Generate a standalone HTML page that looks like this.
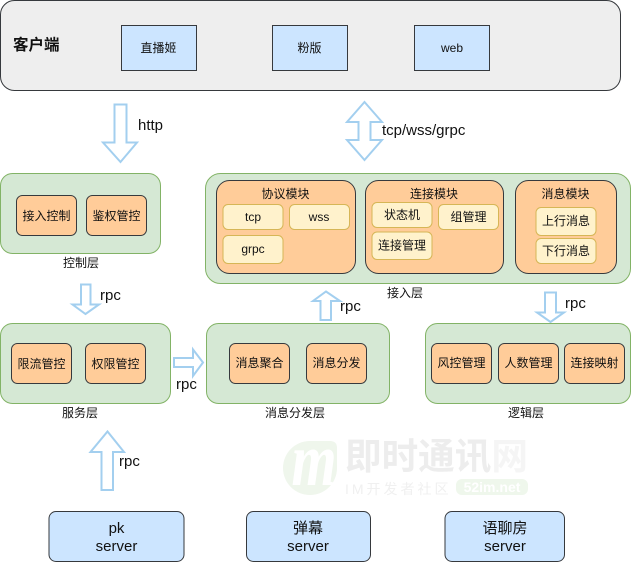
<!DOCTYPE html>
<html><head><meta charset="utf-8"><style>
html,body{margin:0;padding:0;background:#fff}
svg{display:block}
text{font-family:"Liberation Sans","Noto Sans CJK SC",sans-serif;fill:#111;text-anchor:middle;font-size:12px}
.l{font-size:15px;text-anchor:start}
.s{font-size:15px}
.o{fill:#ffcc99;stroke:#36393d;stroke-width:1}
.g{fill:#d5e8d4;stroke:#82b366;stroke-width:1}
.y{fill:#fff2cc;stroke:#d6b656;stroke-width:1}
.b{fill:#cce5ff;stroke:#36393d;stroke-width:1}
.a{fill:#fff;stroke:#a3cfef;stroke-width:2}
</style></head><body>
<svg width="631" height="562" viewBox="0 0 631 562" xmlns="http://www.w3.org/2000/svg">
<!-- watermark -->
<path d="M310 441H330Q337 441 337 448V468A27 27 0 0 1 283 468A27 27 0 0 1 310 441Z" fill="#eff6ec"/>
<text transform="translate(314 485) scale(1 1.3)" x="0" y="0" style="font-family:'Liberation Serif',serif;font-size:58px;font-style:italic;font-weight:bold;fill:#fff">m</text>
<text x="345" y="469" style="font-size:36.6px;font-weight:bold;text-anchor:start;fill:#ededed">即时通讯<tspan style="fill:#f5f5f5">网</tspan></text>
<text x="345" y="494" style="font-size:14px;text-anchor:start;fill:#f0f0f0;letter-spacing:3px">IM开发者社区</text>
<rect x="456" y="479" width="72" height="16" rx="6" fill="#eff7ec"/>
<text x="492" y="492" style="font-size:14px;font-weight:bold;fill:#fff">52im.net</text>

<!-- client -->
<rect x="0.5" y="0.5" width="620" height="90" rx="14" fill="#eeeeee" stroke="#36393d"/>
<text x="13" y="50" style="font-size:15.5px;font-weight:bold;text-anchor:start">客户端</text>
<rect class="b" x="121.5" y="25.5" width="75" height="45"/><text x="158.5" y="52">直播姬</text>
<rect class="b" x="272.5" y="25.5" width="75" height="45"/><text x="309.5" y="52">粉版</text>
<rect class="b" x="414.5" y="25.5" width="75" height="45"/><text x="452" y="52">web</text>

<!-- arrows -->
<path class="a" d="M114.5 104.5H126.5V142.5H137L120.5 162L103 142.5H114.5Z"/>
<text class="l" x="138" y="130">http</text>
<path class="a" d="M364.5 102L382 122H370.5V140H382L364.5 160L347 140H358.5V122H347Z"/>
<text class="l" x="382" y="135">tcp/wss/grpc</text>
<path class="a" d="M81 284.5H90.5V304.5H99L85.5 314L72.500 304.500H81Z"/>
<text class="l" x="100" y="300">rpc</text>
<path class="a" d="M174 358H193V349.500L203 362.500L193 376V367H174Z"/>
<text class="l" x="176" y="389">rpc</text>
<path class="a" d="M101.500 490V452H90.500L107.500 431.500L124 452H113V490Z"/>
<text class="l" x="119" y="466">rpc</text>
<path class="a" d="M320.500 320V301H313L326 291.500L340 301H331V320Z"/>
<text class="l" x="340" y="311">rpc</text>
<path class="a" d="M545 292.500H556V312.500H564L550.500 322L537 312.500H545Z"/>
<text class="l" x="565" y="308">rpc</text>

<!-- control -->
<rect class="g" x="0.5" y="173.500" width="160" height="80" rx="12"/>
<rect class="o" x="16.500" y="195.500" width="60" height="40" rx="6"/><text x="46.500" y="220">接入控制</text>
<rect class="o" x="86.500" y="195.500" width="60" height="40" rx="6"/><text x="116.500" y="220">鉴权管控</text>
<text x="81" y="267">控制层</text>

<!-- access -->
<rect class="g" x="205.500" y="173.500" width="425" height="110" rx="15"/>
<rect class="o" x="216.500" y="180.500" width="139" height="93" rx="13"/>
<text x="285.500" y="198">协议模块</text>
<rect class="y" x="223" y="204.500" width="60" height="25" rx="5"/><text x="253" y="221">tcp</text>
<rect class="y" x="289.500" y="204.500" width="60" height="25" rx="5"/><text x="319" y="221">wss</text>
<rect class="y" x="223" y="235.500" width="60" height="28" rx="5"/><text x="253" y="253">grpc</text>
<rect class="o" x="365.500" y="180.500" width="138" height="93" rx="13"/>
<text x="434" y="198">连接模块</text>
<rect class="y" x="372" y="202.500" width="60" height="25" rx="5"/><text x="402" y="219">状态机</text>
<rect class="y" x="438.500" y="204.500" width="60" height="25" rx="5"/><text x="468.500" y="221">组管理</text>
<rect class="y" x="372" y="232" width="60" height="27.500" rx="5"/><text x="402" y="249.500">连接管理</text>
<rect class="o" x="515.500" y="180.500" width="101" height="93" rx="13"/>
<text x="565.500" y="198">消息模块</text>
<rect class="y" x="536" y="207.500" width="60" height="28" rx="5"/><text x="566" y="225">上行消息</text>
<rect class="y" x="536" y="238.500" width="60" height="25" rx="5"/><text x="566" y="255">下行消息</text>
<text x="405" y="297">接入层</text>

<!-- service -->
<rect class="g" x="0.500" y="323.500" width="170" height="80" rx="12"/>
<rect class="o" x="11.500" y="343.500" width="60" height="40" rx="6"/><text x="41.500" y="368">限流管控</text>
<rect class="o" x="85.500" y="343.500" width="60" height="40" rx="6"/><text x="115.500" y="368">权限管控</text>
<text x="80" y="417">服务层</text>

<!-- dispatch -->
<rect class="g" x="206.500" y="323.500" width="183" height="80" rx="12"/>
<rect class="o" x="229.500" y="343.500" width="60" height="40" rx="6"/><text x="259.500" y="367">消息聚合</text>
<rect class="o" x="306.500" y="343.500" width="60" height="40" rx="6"/><text x="336.500" y="367">消息分发</text>
<text x="295" y="417">消息分发层</text>

<!-- logic -->
<rect class="g" x="425.500" y="323.500" width="205" height="80" rx="12"/>
<rect class="o" x="431.500" y="343.500" width="60" height="40" rx="6"/><text x="461.500" y="367">风控管理</text>
<rect class="o" x="498.500" y="343.500" width="60" height="40" rx="6"/><text x="528.500" y="367">人数管理</text>
<rect class="o" x="564.500" y="343.500" width="60" height="40" rx="6"/><text x="594.500" y="367">连接映射</text>
<text x="526" y="417">逻辑层</text>

<!-- servers -->
<rect class="b" x="49" y="511.500" width="135" height="50" rx="7"/>
<text class="s" x="116.500" y="533">pk</text><text class="s" x="116.500" y="551">server</text>
<rect class="b" x="246.500" y="511.500" width="124" height="50" rx="7"/>
<text class="s" x="308" y="533">弹幕</text><text class="s" x="308" y="551">server</text>
<rect class="b" x="445" y="511.500" width="119.500" height="50" rx="7"/>
<text class="s" x="505" y="533">语聊房</text><text class="s" x="505" y="551">server</text>
</svg>
</body></html>
